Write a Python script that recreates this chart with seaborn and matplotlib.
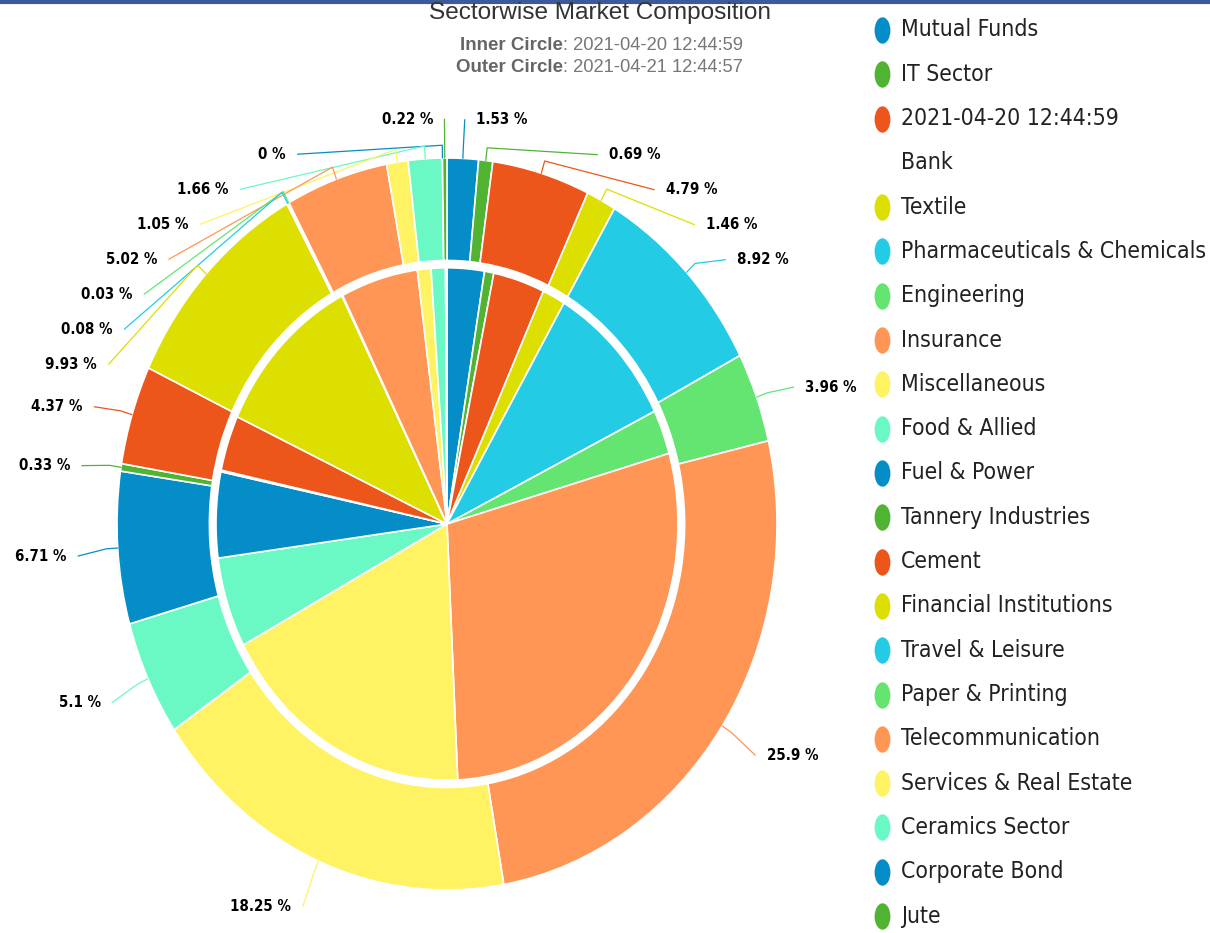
import numpy as np
import matplotlib
matplotlib.use("Agg")
import matplotlib.pyplot as plt
from matplotlib.lines import Line2D
from matplotlib.path import Path
from matplotlib.transforms import Affine2D
import seaborn as sns

sectors = ["Mutual Funds", "IT Sector", "Bank", "Textile", "Pharmaceuticals & Chemicals",
           "Engineering", "Insurance", "Miscellaneous", "Food & Allied", "Fuel & Power",
           "Tannery Industries", "Cement", "Financial Institutions", "Travel & Leisure",
           "Paper & Printing", "Telecommunication", "Services & Real Estate",
           "Ceramics Sector", "Corporate Bond", "Jute"]
legend_names = list(sectors)
legend_names[2] = "2021-04-20 12:44:59\nBank"

# outer ring (2021-04-21) - values from the labels
outer_vals = [1.53, 0.69, 4.79, 1.46, 8.92, 3.96, 25.9, 18.25, 5.1, 6.71,
              0.33, 4.37, 9.93, 0.08, 0.03, 5.02, 1.05, 1.66, 0, 0.22]
# inner pie (2021-04-20) - no labels
inner_vals = [2.6, 0.65, 3.6, 1.6, 9.3, 2.8, 28.7, 17.9, 5.7, 5.4,
              0.1, 3.5, 10.6, 0.05, 0.02, 5.4, 0.95, 1.0, 0, 0.1]

hc_colors = ["#058DC7", "#50B432", "#ED561B", "#DDDF00", "#24CBE5",
             "#64E572", "#FF9655", "#FFF263", "#6AF9C4"]

sns.set_theme(style="white")
palette = sns.color_palette(hc_colors)
colors = [palette[i % len(palette)] for i in range(len(sectors))]
plt.rcParams["font.family"] = ["DejaVu Sans"]

W, H = 1210, 933
fig = plt.figure(figsize=(W / 100, H / 100), dpi=100)
fig.patch.set_facecolor("white")

# pie centre (447, 524) px, radii 330 x 366 px (picture is squeezed horizontally)
cx, cy, rx, ry = 447, 524, 330, 366
ax = fig.add_axes([(cx - rx) / W, (H - cy - ry) / H, 2 * rx / W, 2 * ry / H])

ax.pie(outer_vals, radius=1.0, startangle=90, counterclock=False, colors=colors,
       wedgeprops=dict(width=0.28, edgecolor="white", linewidth=1.2))
ax.pie(inner_vals, radius=0.70, startangle=90, counterclock=False, colors=colors,
       wedgeprops=dict(edgecolor="white", linewidth=1.2))
ax.set_aspect("auto")
ax.set_xlim(-1, 1)
ax.set_ylim(-1, 1)
ax.axis("off")

# data labels, highcharts style: placed on a circle, pushed down when crowded
vals = np.array(outer_vals, dtype=float)
mids = 360 * (np.cumsum(vals) - vals / 2) / vals.sum()
R = 1.12
gap = 35 / ry
for side in ("right", "left"):
    idx = [i for i in range(len(vals)) if (mids[i] < 180) == (side == "right")]
    idx.sort(key=lambda i: -np.cos(np.radians(mids[i])))
    prev = None
    for i in idx:
        th = np.radians(mids[i])
        y = R * np.cos(th)
        if prev is not None:
            y = min(y, prev - gap)
        prev = y
        xo = np.sqrt(max(R ** 2 - y ** 2, 0))
        x = xo if side == "right" else -xo
        yt = y - 0.014
        ex, ey = np.sin(th), np.cos(th)
        ax.plot([ex, 1.035 * ex, x], [ey, 1.035 * ey, yt], color=colors[i], lw=0.9,
                clip_on=False, solid_capstyle="round")
        pad = 0.035 if side == "right" else -0.035
        ax.text(x + pad, yt, f"{outer_vals[i]:g} %", ha="left" if side == "right" else "right",
                va="center", fontsize=10.8, fontweight="bold", fontstretch="condensed",
                color="black")

# title and subtitle
fig.text(600 / W, 1 - 13 / H, "Sectorwise Market Composition", ha="center", va="center",
         fontsize=17.6, color="#333333", family=["Liberation Sans", "DejaVu Sans"])
for k, (head, stamp) in enumerate([("Inner Circle", "2021-04-20 12:44:59"),
                                   ("Outer Circle", "2021-04-21 12:44:57")]):
    yy = 1 - (46 + 22 * k) / H
    fig.text(563 / W, yy, head, ha="right", va="center", fontsize=13.5, fontweight="bold",
             color="#666666", family=["Liberation Sans", "DejaVu Sans"])
    fig.text(563 / W, yy, ": " + stamp, ha="left", va="center", fontsize=13.2,
             color="#777777", family=["Liberation Sans", "DejaVu Sans"])

# legend drawn by hand so the wrapped entry keeps its marker on the first line
ell = Path.unit_circle().transformed(Affine2D().scale(0.6, 1.0))
row = 0
for name, col in zip(legend_names, colors):
    yy = 1 - (30 + 44.3 * row) / H
    fig.add_artist(Line2D([882 / W], [yy], marker=ell, markersize=19, color=col,
                          markeredgewidth=0, linestyle="none"))
    for j, line in enumerate(name.split("\n")):
        fig.text(901 / W, 1 - (30 + 44.3 * (row + j)) / H, line, ha="left", va="center",
                 fontsize=16.5, fontstretch="condensed", color="#222222")
    row += len(name.split("\n"))

# thin blue frame line along the top
fig.add_artist(Line2D([0, 1], [1 - 1.5 / H, 1 - 1.5 / H], color="#3C5A9A", lw=3))

fig.savefig("out.png", dpi=100)
